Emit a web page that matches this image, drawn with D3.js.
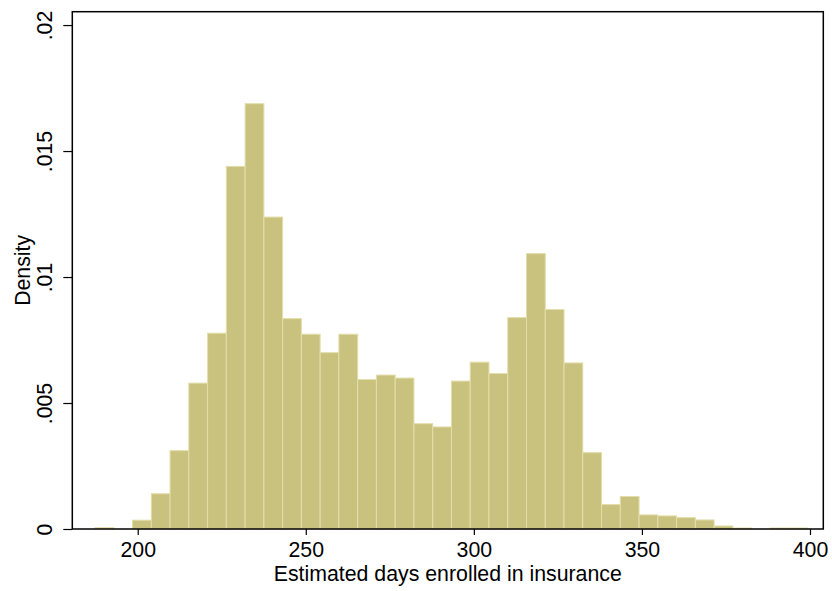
<!DOCTYPE html>
<html><head><meta charset="utf-8">
<script src="https://cdn.jsdelivr.net/npm/d3@7"></script>
<style>body{margin:0;background:#fff}text{font-family:"Liberation Sans",Arial,Helvetica,sans-serif;fill:#000}</style>
</head><body><div id="chart"></div>
<script>
const binStart = 187.3;
const binWidth = 5.581;
const density = [0.00005, 0, 0.00035, 0.0014, 0.00311, 0.00579, 0.00777, 0.01439, 0.01688, 0.01238,
  0.00835, 0.00773, 0.0070, 0.00773, 0.00593, 0.00611, 0.00599, 0.00418, 0.00405, 0.00587,
  0.00662, 0.00617, 0.00839, 0.01093, 0.00871, 0.00659, 0.00303, 0.00097, 0.00129, 0.00056,
  0.00052, 0.00045, 0.00036, 0.00012, 0.00004, 0, 0.00004, 0.00004];
const xTicks = [200, 250, 300, 350, 400];
const yTicks = [0, 0.005, 0.01, 0.015, 0.02];
const yTickLabels = ["0", ".005", ".01", ".015", ".02"];
const xTitle = "Estimated days enrolled in insurance";
const yTitle = "Density";

const W = 832, H = 591;
const L = 72.3, R = 823.3, T = 11.7, B = 529;
const FS = 21.3;
const svg = d3.select("#chart").append("svg").attr("width", W).attr("height", H);
const x = d3.scaleLinear().domain([180.54, 403.96]).range([L, R]);
const y = d3.scaleLinear().domain([0, 0.02053]).range([B, T]);

const bins = density.map((d, i) => ({x0: binStart + i * binWidth, x1: binStart + (i + 1) * binWidth, d}));
svg.append("g").selectAll("rect").data(bins.filter(b => b.d > 0)).join("rect")
  .attr("x", b => x(b.x0)).attr("width", b => x(b.x1) - x(b.x0))
  .attr("y", b => y(b.d)).attr("height", b => y(0) - y(b.d))
  .attr("fill", "#c9c27e").attr("stroke", "#e2deaa").attr("stroke-width", 1);

svg.append("rect").attr("x", L).attr("y", T).attr("width", R - L).attr("height", B - T)
  .attr("fill", "none").attr("stroke", "#000").attr("stroke-width", 1.5);

const xAxis = svg.append("g").attr("transform", `translate(0,${B})`)
  .call(d3.axisBottom(x).tickValues(xTicks).tickSize(6).tickFormat(d3.format("d")));
xAxis.select(".domain").remove();
xAxis.selectAll("line").attr("stroke", "#000").attr("stroke-width", 1.2);
xAxis.selectAll("text").attr("font-size", FS).attr("dy", null).attr("y", 28)
  .style("font-family", '"Liberation Sans",Arial,sans-serif');

const yAxis = svg.append("g").attr("transform", `translate(${L},0)`)
  .call(d3.axisLeft(y).tickValues(yTicks).tickSize(9).tickFormat((d, i) => yTickLabels[i]));
yAxis.select(".domain").remove();
yAxis.selectAll("line").attr("stroke", "#000").attr("stroke-width", 1.2);
yAxis.selectAll("text").attr("font-size", FS).attr("text-anchor", "middle")
  .attr("x", null).attr("dy", null)
  .attr("transform", d => `translate(${52 - L},0) rotate(-90)`)
  .style("font-family", '"Liberation Sans",Arial,sans-serif');

svg.append("text").attr("x", (L + R) / 2).attr("y", 580.7).attr("text-anchor", "middle")
  .attr("font-size", FS).text(xTitle);
svg.append("text").attr("transform", `translate(30,${(T + B) / 2}) rotate(-90)`)
  .attr("text-anchor", "middle").attr("font-size", FS).text(yTitle);
</script></body></html>
